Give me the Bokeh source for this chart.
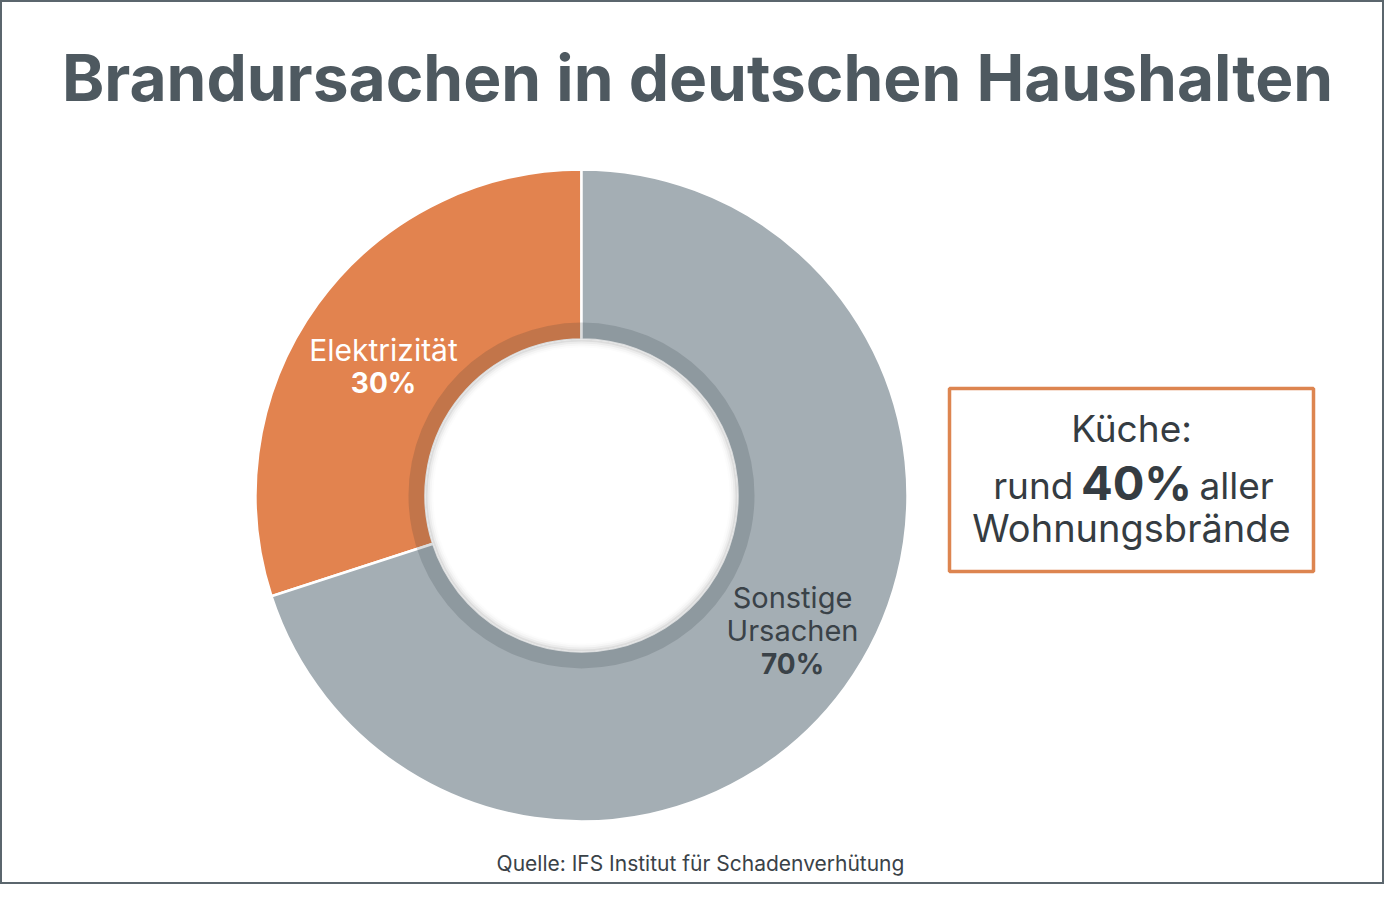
import math
from bokeh.plotting import figure
from bokeh.models import ColumnDataSource, Range1d
from bokeh.core.properties import value
from bokeh.embed import file_html
from bokeh.resources import INLINE

categories = ["Elektrizität", "Sonstige Ursachen"]
shares = [30, 70]
colors = ["#E2834F", "#A4AEB4"]
label_pct = ["30%", "70%"]

title_text = "Brandursachen in deutschen Haushalten"
source_text = "Quelle: IFS Institut für Schadenverhütung"
box_lines = ["Küche:", "rund", "40%", "aller", "Wohnungsbrände"]

FONT = "Inter"
W, H = 1384, 884

p = figure(width=W, height=H, output_backend="svg", toolbar_location=None,
           x_range=Range1d(0, W), y_range=Range1d(0, H),
           min_border=0, outline_line_color="#5B666D", outline_line_width=3)
p.axis.visible = False
p.grid.visible = False
p.background_fill_color = "white"

def Y(y):
    # reference pixel row -> data y
    return H - y

cx, cy = 581, Y(495)
r_out, r_band, r_in = 326, 173, 156

# wedges, starting at the top and going counter-clockwise
total = sum(shares)
starts, ends = [], []
a = math.pi / 2
for s in shares:
    starts.append(a)
    a += 2 * math.pi * s / total
    ends.append(a)

src = ColumnDataSource(dict(cat=categories, start=starts, end=ends, color=colors))
p.annular_wedge(x=cx, y=cy, inner_radius=r_in, outer_radius=r_out,
                start_angle="start", end_angle="end", fill_color="color",
                line_color="white", line_width=2.5, source=src)

# darker inner band
p.annulus(x=cx, y=cy, inner_radius=r_in, outer_radius=r_band,
          fill_color="#1E2A33", fill_alpha=0.16, line_color=None)
# white hole with soft shadow
p.circle(x=cx, y=cy, radius=r_in, fill_color="white", line_color=None)
for i, al in enumerate([0.06, 0.04, 0.025, 0.012]):
    p.annulus(x=cx, y=cy, inner_radius=r_in - 2 * (i + 1), outer_radius=r_in,
              fill_color="black", fill_alpha=al, line_color=None)

# slice labels
p.text(x=[383], y=[Y(349)], text=[categories[0]], text_font=value(FONT),
       text_font_size="30px", text_color="white", text_align="center",
       text_baseline="middle")
p.text(x=[383], y=[Y(382)], text=[label_pct[0]], text_font=value(FONT),
       text_font_size="28px", text_font_style="bold", text_color="white",
       text_align="center", text_baseline="middle")
p.text(x=[792, 792], y=[Y(597), Y(630)], text=categories[1].split(" "),
       text_font=value(FONT), text_font_size="29px", text_color="#3A4248",
       text_align="center", text_baseline="middle")
p.text(x=[792], y=[Y(663)], text=[label_pct[1]], text_font=value(FONT),
       text_font_size="28px", text_font_style="bold", text_color="#3A4248",
       text_align="center", text_baseline="middle")

# title
p.text(x=[697], y=[Y(77)], text=[title_text], text_font=value(FONT),
       text_font_size="64px", text_font_style="bold", text_color="#4E5960",
       text_align="center", text_baseline="middle")

# info box
p.quad(left=949, right=1313, top=Y(388), bottom=Y(571), fill_color="white",
       line_color="#DD8550", line_width=3.5)
p.text(x=[1131], y=[Y(428)], text=[box_lines[0]], text_font=value(FONT),
       text_font_size="37px", text_color="#353C42", text_align="center",
       text_baseline="middle")
p.text(x=[1073], y=[Y(485)], text=[box_lines[1]], text_font=value(FONT),
       text_font_size="37px", text_color="#353C42", text_align="right",
       text_baseline="middle")
p.text(x=[1136], y=[Y(482)], text=[box_lines[2]], text_font=value(FONT),
       text_font_size="47px", text_font_style="bold", text_color="#353C42",
       text_align="center", text_baseline="middle")
p.text(x=[1199], y=[Y(485)], text=[box_lines[3]], text_font=value(FONT),
       text_font_size="37px", text_color="#353C42", text_align="left",
       text_baseline="middle")
p.text(x=[1131], y=[Y(527)], text=[box_lines[4]], text_font=value(FONT),
       text_font_size="38px", text_color="#353C42", text_align="center",
       text_baseline="middle")

# source
p.text(x=[700], y=[Y(863)], text=[source_text], text_font=value(FONT),
       text_font_size="21px", text_color="#3A4248", text_align="center",
       text_baseline="middle")

open("out.html", "w").write(file_html(p, INLINE))
